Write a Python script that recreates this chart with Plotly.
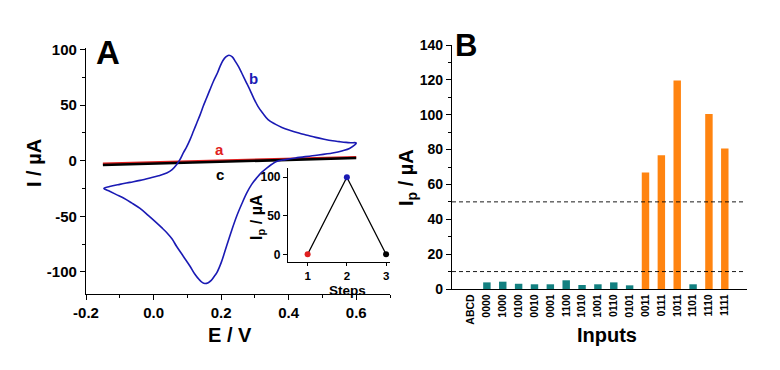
import plotly.graph_objects as go

# ---------------- Panel A data ----------------
# curve b: forward scan then reverse scan
cv_b_E = [-0.147, -0.13, -0.10, -0.07, -0.04, -0.01, 0.015, 0.039, 0.055, 0.068, 0.078,
          0.088, 0.098, 0.108, 0.118, 0.128, 0.138, 0.147, 0.157, 0.167, 0.178, 0.189,
          0.197, 0.205, 0.214, 0.223, 0.233, 0.243, 0.252, 0.261, 0.273, 0.285, 0.297,
          0.309, 0.324, 0.339, 0.36, 0.38, 0.405, 0.43, 0.455, 0.48, 0.505, 0.53, 0.55,
          0.57, 0.585, 0.60,
          0.58, 0.56, 0.53, 0.47, 0.42, 0.39, 0.364, 0.35, 0.335, 0.32, 0.305, 0.29,
          0.276, 0.261, 0.246, 0.231, 0.216, 0.20, 0.187, 0.18, 0.17, 0.162, 0.152,
          0.145, 0.135, 0.122, 0.108, 0.088, 0.068, 0.055, 0.04, 0.025, 0.009, -0.015,
          -0.04, -0.065, -0.089, -0.11, -0.13, -0.147]
cv_b_I = [-25, -23.3, -21.3, -19.5, -17.7, -15.5, -13.5, -11, -8, -3.6, 1,
          7, 12.5, 19, 26.5, 34, 41.5, 49, 56.5, 64, 72, 79,
          85, 90, 93.5, 95, 93.5, 89, 84.5, 79, 71.5, 64, 56,
          49, 42.5, 37, 33, 30, 27.3, 25, 23, 21, 19.4, 18, 17.2,
          16.5, 16.2, 16,
          11, 9, 7, 4.5, 2.5, 1, -0.6, -3.2, -6.6, -10.5, -15.6, -21.5,
          -29, -39, -50, -63, -77, -92, -101, -104, -108, -109.8, -110.5,
          -109.8, -107, -102, -95, -86, -77, -70.5, -65, -60.5, -56, -49.5,
          -43, -38, -33.6, -30.5, -27.5, -25]
cv_a_E = [-0.15, 0.60]
cv_a_I = [-2.5, 3.2]
cv_c_E = [-0.15, 0.60]
cv_c_I = [-3.8, 2.4]

inset_steps = [1, 2, 3]
inset_ip = [0, 100, 0]
inset_colors = ["#e02020", "#1a1ab4", "#000000"]

# ---------------- Panel B data ----------------
inputs = ["ABCD", "0000", "1000", "0100", "0010", "0001", "1100", "1010", "1001",
          "0110", "0101", "0011", "0111", "1011", "1101", "1110", "1111"]
ip_values = [None, 3.8, 4.2, 3.0, 2.7, 2.7, 5.0, 2.3, 2.7,
             3.8, 2.1, 66.9, 76.8, 119.6, 2.7, 100.4, 80.6]
thresholds = [10, 50]

TEAL = "#138080"
ORANGE = "#ff8410"
BLUE = "#1a1ab4"
RED = "#e02020"
FONT = "Liberation Sans, Arial, sans-serif"

bar_colors = [ORANGE if (v is not None and v > 50) else TEAL for v in ip_values]
pos = list(range(len(inputs)))

# page body has an 8px margin: size the figure so it fits the 780x370 window
OFF = 8
W, H = 780 - OFF, 370 - OFF
def px(x):
    return (x - OFF) / W
def py(y):
    return 1 - (y - OFF) / H

fig = go.Figure()

# Panel A curves
fig.add_trace(go.Scatter(x=cv_a_E, y=cv_a_I, mode="lines", line=dict(color=RED, width=2.2),
                         xaxis="x", yaxis="y", showlegend=False))
fig.add_trace(go.Scatter(x=cv_c_E, y=cv_c_I, mode="lines", line=dict(color="#000000", width=2.6),
                         xaxis="x", yaxis="y", showlegend=False))
fig.add_trace(go.Scatter(x=cv_b_E, y=cv_b_I, mode="lines",
                         line=dict(color=BLUE, width=1.6, shape="spline", smoothing=1.0),
                         xaxis="x", yaxis="y", showlegend=False))

# Inset
fig.add_trace(go.Scatter(x=inset_steps, y=inset_ip, mode="lines+markers",
                         line=dict(color="#000000", width=1.3),
                         marker=dict(color=inset_colors, size=6),
                         xaxis="x3", yaxis="y3", showlegend=False, cliponaxis=False))

# Panel B bars
fig.add_trace(go.Bar(x=pos, y=ip_values, marker=dict(color=bar_colors, line=dict(width=0)),
                     width=0.47, xaxis="x2", yaxis="y2", showlegend=False))
for t in thresholds:
    fig.add_trace(go.Scatter(x=[-1.2, 17.3], y=[t, t], mode="lines",
                             line=dict(color="#000000", width=0.9, dash="4px,3px"),
                             xaxis="x2", yaxis="y2", showlegend=False))

def axis(size=15, **kw):
    d = dict(showline=True, linecolor="black", linewidth=1.3, ticks="outside",
             ticklen=5, tickwidth=1.3, tickcolor="black", showgrid=False, zeroline=False,
             tickfont=dict(family=FONT, size=size, color="black", weight="bold"),
             mirror=False, automargin=False)
    d.update(kw)
    return d

minor_style = dict(ticks="outside", ticklen=3, tickcolor="black", tickwidth=1.2)

fig.update_layout(
    width=W, height=H,
    margin=dict(l=0, r=0, t=0, b=0),
    paper_bgcolor="white", plot_bgcolor="rgba(0,0,0,0)",
    font=dict(family=FONT, color="black"),
    xaxis=axis(domain=[px(86), px(390)], anchor="y", range=[-0.2, 0.7],
               tickvals=[-0.2, 0.0, 0.2, 0.4, 0.6], ticktext=["-0.2", "0.0", "0.2", "0.4", "0.6"],
               minor=dict(dtick=0.1, tick0=0, **minor_style)),
    yaxis=axis(domain=[py(294), py(48)], anchor="x", range=[-120, 101.5],
               tickvals=[-100, -50, 0, 50, 100], ticktext=["-100", "-50", "0", "50", "100"],
               minor=dict(dtick=25, tick0=0, **minor_style)),
    xaxis3=axis(size=11.5, ticklen=3, linewidth=1.2,
                domain=[px(288), px(390)], anchor="y3", range=[0.5, 3.1], tickvals=[1, 2, 3]),
    yaxis3=axis(size=12, ticklen=4, linewidth=1.2,
                domain=[py(262), py(168)], anchor="x3", range=[-10, 112], tickvals=[0, 50, 100]),
    xaxis2=axis(size=10.5, ticks="", domain=[px(452), px(747)], anchor="y2", range=[-1.2, 17.4],
                tickvals=pos, ticktext=inputs, tickangle=-90),
    yaxis2=axis(size=14, domain=[py(289), py(45)], anchor="x2", range=[0, 140],
                tickvals=[0, 20, 40, 60, 80, 100, 120, 140],
                minor=dict(dtick=10, tick0=0, **minor_style)),
)

def label(text, x, y, size, angle=0, color="black", xref="paper", yref="paper", xanchor="center"):
    fig.add_annotation(text=text, x=x, y=y, xref=xref, yref=yref, showarrow=False,
                       textangle=angle, xanchor=xanchor, yanchor="middle",
                       font=dict(family=FONT, size=size, weight="bold", color=color))

# axis titles
label("E / V", px(230), py(335), 20)
label("I / µA", px(34), py(163), 20, angle=-90)
label("Inputs", px(607), py(335), 20)
label("I<sub>p</sub> / µA", px(407), py(177), 20, angle=-90)
label("Steps", px(347), py(290), 13.5)
label("I<sub>p</sub> / µA", px(257), py(217), 16, angle=-90)

# panel letters
label("A", px(94), py(52), 33, xanchor="left")
label("B", px(453), py(46), 31, xanchor="left")

# curve labels
label("a", 0.195, 10, 15, color=RED, xref="x", yref="y")
label("b", 0.295, 74, 15, color=BLUE, xref="x", yref="y")
label("c", 0.197, -12.6, 15, xref="x", yref="y")

fig.write_html("out.html")
